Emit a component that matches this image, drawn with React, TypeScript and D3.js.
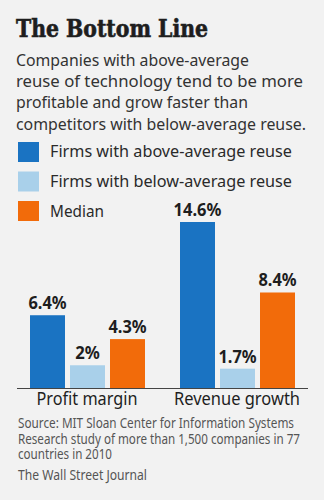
import React from "react";
import * as d3 from "d3";

const title = "The Bottom Line";
const subtitleLines = [
  "Companies with above-average",
  "reuse of technology tend to be more",
  "profitable and grow faster than",
  "competitors with below-average reuse.",
];
const subtitleWidths = [233, 287, 232, 290];
const categories = ["Profit margin", "Revenue growth"];
const seriesNames = [
  "Firms with above-average reuse",
  "Firms with below-average reuse",
  "Median",
];
const seriesColors = ["#1a73c2", "#a9d0ea", "#f26b0a"];
const aboveValues = [6.4, 14.6];
const belowValues = [2, 1.7];
const medianValues = [4.3, 8.4];
const valueLabels = [
  ["6.4%", "2%", "4.3%"],
  ["14.6%", "1.7%", "8.4%"],
];
const sourceLines = [
  "Source: MIT Sloan Center for Information Systems",
  "Research study of more than 1,500 companies in 77",
  "countries in 2010",
];
const credit = "The Wall Street Journal";

const W = 324;
const H = 500;
const SANS = "'Noto Sans', 'Open Sans', sans-serif";
const NARROW = "'Liberation Sans Narrow', 'Noto Sans', sans-serif";

export default function App() {
  const series = [aboveValues, belowValues, medianValues];
  const x0 = d3.scaleBand<string>().domain(categories).range([12, 312]).padding(0);
  const x1 = d3
    .scaleBand<string>()
    .domain(seriesNames)
    .range([18, 133])
    .paddingInner(0.125);
  const y = d3.scaleLinear().domain([0, 14.6]).range([388, 222]);

  const labelWidth = (s: string) => {
    const digits = s.replace(/[^0-9]/g, "").length;
    const dots = s.includes(".") ? 1 : 0;
    return digits * 9.6 + dots * 4 + 15;
  };

  return (
    <svg
      width={W}
      height={H}
      style={{ position: "absolute", left: 0, top: 0, display: "block" }}
    >
      <rect x={0} y={0} width={W} height={H} fill="#f2f2f2" />
      <text
        x={16}
        y={37}
        fontFamily="'DejaVu Serif Condensed', 'DejaVu Serif', serif"
        fontWeight="bold"
        fontSize={24.5}
        fill="#1e1e1e"
        stroke="#1e1e1e"
        strokeWidth={0.6}
        textLength={192}
        lengthAdjust="spacingAndGlyphs"
      >
        {title}
      </text>
      {subtitleLines.map((l, i) => (
        <text
          key={i}
          x={16}
          y={66 + i * 21.2}
          fontFamily={SANS}
          fontSize={16.5}
          fill="#333"
          textLength={subtitleWidths[i]}
          lengthAdjust="spacingAndGlyphs"
        >
          {l}
        </text>
      ))}
      {seriesNames.map((n, i) => (
        <g key={n}>
          <rect x={18} y={142 + i * 29.5} width={21} height={20} fill={seriesColors[i]} />
          <text
            x={50}
            y={157 + i * 30}
            fontFamily={SANS}
            fontSize={16.5}
            fill="#2a2a2a"
            textLength={i === 2 ? 54 : 242}
            lengthAdjust="spacingAndGlyphs"
          >
            {n}
          </text>
        </g>
      ))}
      {categories.map((c, ci) => (
        <g key={c} transform={`translate(${x0(c)},0)`}>
          {seriesNames.map((n, si) => {
            const v = series[si][ci];
            const bx = x1(n)!;
            const bw = x1.bandwidth();
            const lbl = valueLabels[ci][si];
            return (
              <g key={n}>
                <rect x={bx} y={y(v)} width={bw} height={y(0) - y(v)} fill={seriesColors[si]} />
                <text
                  x={bx + bw / 2}
                  y={y(v) - 6}
                  textAnchor="middle"
                  fontFamily={SANS}
                  fontWeight="bold"
                  fontSize={17}
                  fill="#1e1e1e"
                  textLength={labelWidth(lbl)}
                  lengthAdjust="spacingAndGlyphs"
                >
                  {lbl}
                </text>
              </g>
            );
          })}
          <text
            x={x0.bandwidth() / 2}
            y={405}
            textAnchor="middle"
            fontFamily={SANS}
            fontSize={17.5}
            fill="#1e1e1e"
            textLength={ci === 0 ? 101 : 126}
            lengthAdjust="spacingAndGlyphs"
          >
            {c}
          </text>
        </g>
      ))}
      <line x1={17} x2={308} y1={y(0) + 0.5} y2={y(0) + 0.5} stroke="#444" strokeWidth={1} />
      {sourceLines.map((l, i) => (
        <text
          key={i}
          x={18}
          y={428 + i * 15.5}
          fontFamily={NARROW}
          fontSize={13.5}
          fill="#555"
          textLength={i === 0 ? 276 : i === 1 ? 282 : 94}
          lengthAdjust="spacingAndGlyphs"
        >
          {l}
        </text>
      ))}
      <text
        x={18}
        y={480}
        fontFamily={NARROW}
        fontSize={13.5}
        fill="#555"
        textLength={129}
        lengthAdjust="spacingAndGlyphs"
      >
        {credit}
      </text>
    </svg>
  );
}
